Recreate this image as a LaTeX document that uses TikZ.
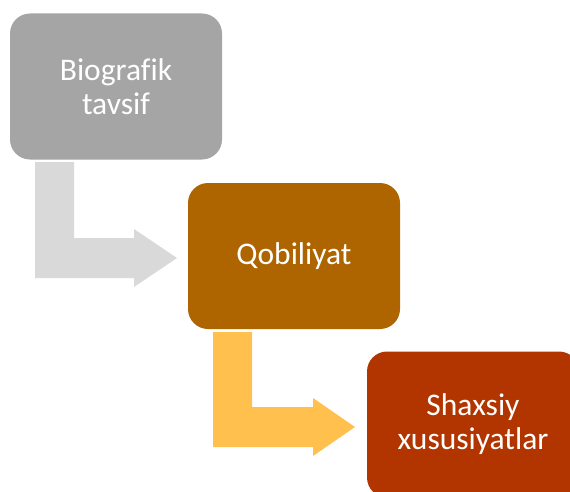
\documentclass[tikz,border=0pt]{standalone}
\usepackage{fontspec}
\setmainfont[Ligatures={NoCommon}]{Carlito}
\definecolor{boxgray}{HTML}{A5A5A5}
\definecolor{arrowgray}{HTML}{D9D9D9}
\definecolor{boxbrown}{HTML}{AE6500}
\definecolor{arrowyellow}{HTML}{FFC04D}
\definecolor{boxred}{HTML}{B23500}
\begin{document}
\begin{tikzpicture}[x=1pt,y=-1pt,
  stepbox/.style={rounded corners=20pt, minimum width=212pt, minimum height=146pt,
    inner sep=0pt, text=white, align=center, font=\fontsize{31.5}{34}\selectfont}]
\useasboundingbox (0,0) rectangle (570,492);
\clip (0,0) rectangle (570,492);
% bent arrows
\fill[arrowgray] (35,162) -- (74,162) -- (74,238) -- (134,238) -- (134,229)
  -- (177,258) -- (134,287) -- (134,278) -- (35,278) -- cycle;
\fill[arrowyellow] (213,332) -- (252,332) -- (252,407) -- (313,407) -- (313,398)
  -- (355,427) -- (313,456) -- (313,447) -- (213,447) -- cycle;
% boxes
\node[stepbox, fill=boxgray] (b1) at (116,86.5) {Biografik\\tavsif};
\node[stepbox, fill=boxbrown] (b2) at (294,256) {Qobiliyat};
\node[stepbox, fill=boxred] (b3) at (473,424.5) {Shaxsiy\\xususiyatlar};
\end{tikzpicture}
\end{document}
